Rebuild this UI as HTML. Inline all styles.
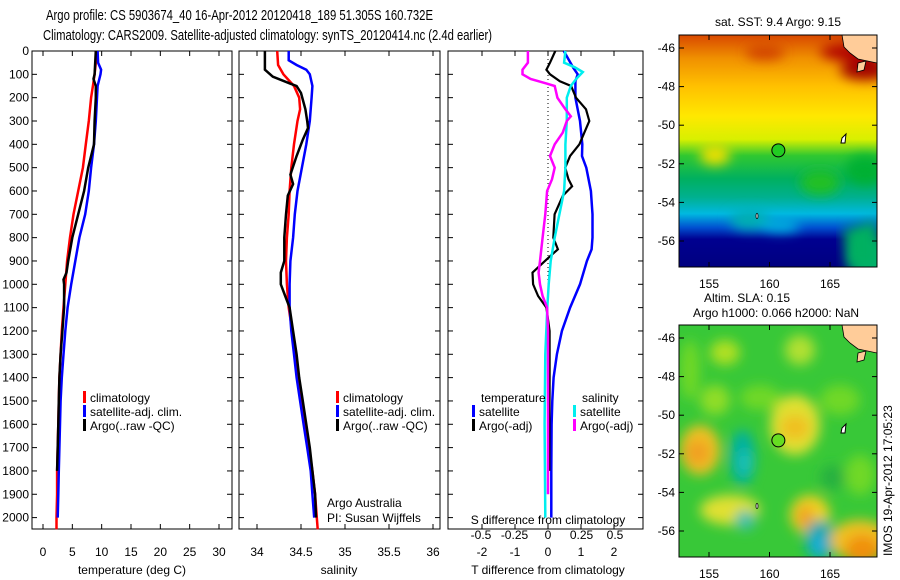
<!DOCTYPE html>
<html><head><meta charset="utf-8"><style>
body{margin:0;background:#fff}
svg{display:block;font-family:"Liberation Sans",sans-serif}
</style></head><body>
<svg id="c" width="900" height="580" xmlns="http://www.w3.org/2000/svg">
<defs>
<linearGradient id="sst" x1="0" y1="0" x2="0" y2="1">
<stop offset="0" stop-color="#d84800"/><stop offset="0.1" stop-color="#f09000"/><stop offset="0.22" stop-color="#ffc000"/>
<stop offset="0.35" stop-color="#ffe800"/><stop offset="0.45" stop-color="#d8f000"/><stop offset="0.52" stop-color="#30c830"/>
<stop offset="0.62" stop-color="#00b060"/><stop offset="0.7" stop-color="#00b090"/><stop offset="0.77" stop-color="#00b8e0"/>
<stop offset="0.83" stop-color="#0050d0"/><stop offset="0.88" stop-color="#000090"/><stop offset="1" stop-color="#000080"/>
</linearGradient>
<filter id="bl" x="-20%" y="-20%" width="140%" height="140%"><feGaussianBlur stdDeviation="6"/></filter>
<clipPath id="m1c"><rect x="679" y="35" width="198" height="232"/></clipPath>
<clipPath id="m2c"><rect x="679" y="325" width="198" height="232"/></clipPath>
</defs>
<text x="46" y="20" font-size="15" textLength="387" lengthAdjust="spacingAndGlyphs">Argo profile: CS 5903674_40 16-Apr-2012 20120418_189 51.305S 160.732E</text>
<text x="43" y="40" font-size="15" textLength="449" lengthAdjust="spacingAndGlyphs">Climatology: CARS2009. Satellite-adjusted climatology: synTS_20120414.nc (2.4d earlier)</text>
<g id="g"></g>
</svg>
<script>
// ---- data ----
const tDepth=[0,50,100,150,200,300,400,500,600,700,800,900,1000,1100,1200,1300,1400,1500,1600,1700,1800,1900,2000,2050];
const tClim=[9,9,8.8,8.5,8.2,7.8,7.3,6.8,6.0,5.2,4.6,4.1,3.8,3.5,3.2,3.0,2.8,2.7,2.6,2.5,2.4,2.4,2.3,2.3];
const tSatDepth=[0,50,80,100,150,200,300,400,500,600,700,800,900,1000,1100,1200,1300,1400,1500,1600,1700,1800,1900,2000];
const tSat=[9.3,9.4,9.9,9.8,9.3,9.2,9.0,8.7,8.2,7.8,7.2,6.2,5.5,4.8,4.2,3.8,3.5,3.2,3.0,2.9,2.8,2.7,2.6,2.5];
const tArgoDepth=[0,100,120,150,200,300,400,500,600,700,800,900,950,980,1000,1100,1200,1300,1400,1500,1600,1700,1800];
const tArgo=[9.0,8.8,8.6,9.0,9.0,8.8,8.7,7.7,7.0,6.0,5.0,4.3,4.0,3.5,3.6,3.6,3.3,3.0,2.8,2.7,2.6,2.5,2.4];
const sDepth=[0,60,100,150,200,250,300,400,500,600,700,800,900,1000,1100,1200,1300,1400,1500,1600,1700,1800,1900,2000,2050];
const sClim=[34.23,34.24,34.30,34.42,34.48,34.49,34.46,34.42,34.39,34.37,34.36,34.34,34.33,34.34,34.36,34.40,34.44,34.47,34.51,34.55,34.59,34.63,34.66,34.68,34.69];
const sSatDepth=[0,40,60,80,100,150,200,300,400,500,600,700,800,900,1000,1100,1200,1300,1400,1500,1600,1700,1800,1900,2000];
const sSat=[34.36,34.36,34.45,34.56,34.60,34.63,34.62,34.60,34.56,34.51,34.46,34.43,34.41,34.38,34.37,34.37,34.39,34.42,34.45,34.49,34.53,34.57,34.61,34.63,34.65];
const sArgoDepth=[0,80,110,140,150,180,250,300,330,380,450,530,570,620,700,800,900,950,1000,1050,1100,1200,1300,1400,1500,1600,1700,1800,1900,2000];
const sArgo=[34.09,34.09,34.18,34.38,34.45,34.50,34.55,34.57,34.58,34.52,34.45,34.38,34.41,34.35,34.33,34.31,34.31,34.27,34.27,34.32,34.37,34.41,34.45,34.48,34.52,34.56,34.60,34.63,34.66,34.67];
const dTSatDepth=[0,73,100,130,200,300,400,450,500,600,700,800,850,900,1000,1100,1200,1300,1400,1500,1600,1800,2000];
const dTSat=[0.48,0.77,0.9,0.83,0.83,0.97,1.04,1.03,1.16,1.3,1.35,1.35,1.32,1.18,0.97,0.67,0.42,0.27,0.17,0.13,0.11,0.1,0.1];
const dTArgoDepth=[0,50,80,100,130,150,200,250,300,350,400,450,500,550,580,620,700,800,850,880,950,1000,1050,1100,1200,1400,1800];
const dTArgo=[0.22,0.06,-0.05,0.06,0.36,0.7,0.85,1.15,1.25,1.1,0.95,0.67,0.52,0.62,0.73,0.45,0.2,0.16,0.3,0.06,-0.47,-0.45,-0.3,-0.05,0.05,0.05,0.04];
const dSSatDepth=[0,50,70,90,120,150,200,300,400,500,600,700,800,900,1000,1100,1300,1600,2000];
const dSSat=[0.13,0.12,0.2,0.26,0.21,0.17,0.14,0.14,0.13,0.13,0.12,0.085,0.05,0.02,0.005,-0.005,-0.02,-0.025,-0.02];
const dSArgoDepth=[0,50,80,100,120,140,150,200,250,280,300,350,400,450,500,550,600,700,800,900,950,1000,1050,1100,1200,1400,1900];
const dSArgo=[-0.15,-0.15,-0.19,-0.19,-0.13,-0.007,0.05,0.07,0.13,0.17,0.14,0.11,0.05,0.015,0.05,0.03,-0.007,-0.02,-0.04,-0.06,-0.07,-0.06,-0.04,-0.007,0.0,0.0,0.0];
const depthTicks=[0,100,200,300,400,500,600,700,800,900,1000,1100,1200,1300,1400,1500,1600,1700,1800,1900,2000];
const tTicks=[0,5,10,15,20,25,30];
const sTicks=[34,34.5,35,35.5,36];
const dTTicks=[-2,-1,0,1,2];
const dSTicks=[-0.5,-0.25,0,0.25,0.5];
const latTicks=[-46,-48,-50,-52,-54,-56];
const lonTicks=[155,160,165];
const floatLon=160.732, floatLat=-51.305;

// ---- scales ----
const Y0=51,Y1=529;
const yD=d=>Y0+d*0.2333;
const xT=v=>43+v*(176/30);
const xS=v=>257+(v-34)*88;
const xDT=v=>548+v*33;
const xDS=v=>548+v*134;
const mLon=v=>709+(v-155)*12.1;
const mLat=(v,top)=>top+13+(-46-v)*19.3;
const NS='http://www.w3.org/2000/svg';
const G=document.getElementById('g');
function el(t,a,txt,p){const e=document.createElementNS(NS,t);for(const k in a)e.setAttribute(k,a[k]);if(txt!=null)e.textContent=txt;(p||G).appendChild(e);return e;}
function line(xs,ds,fx,col,w,name){
  const pts=xs.map((v,i)=>fx(v).toFixed(1)+','+yD(ds[i]).toFixed(1)).join(' ');
  const e=el('polyline',{points:pts,fill:'none',stroke:col,'stroke-width':w,'stroke-linejoin':'miter'});
  
  
}
function frame(x0,x1,name){
  const r=el('rect',{x:x0,y:Y0,width:x1-x0,height:Y1-Y0,fill:'none',stroke:'#000','stroke-width':1});
  
  
  depthTicks.forEach(d=>{el('line',{x1:x0,x2:x0+5,y1:yD(d),y2:yD(d),stroke:'#000'});el('line',{x1:x1-5,x2:x1,y1:yD(d),y2:yD(d),stroke:'#000'});});
}
function xticks(vals,fx,x0,x1,y){
  vals.forEach(v=>{const x=fx(v);el('line',{x1:x,x2:x,y1:Y1,y2:Y1-5,stroke:'#000'});el('line',{x1:x,x2:x,y1:Y0,y2:Y0+5,stroke:'#000'});
    const t=el('text',{x:x,y:y,'font-size':12,'text-anchor':'middle'},String(v));
    
    });
}
depthTicks.forEach(d=>{const t=el('text',{x:29,y:yD(d)+4,'font-size':12,'text-anchor':'end'},String(d));
  
  });
// panel 1
frame(32,232,'temperature-axes');
xticks(tTicks,xT,32,232,556);
let t=el('text',{x:132,y:574,'font-size':12,'text-anchor':'middle'},'temperature (deg C)');


line(tClim,tDepth,xT,'#f00',2.5,'temp-climatology-line');
line(tSat,tSatDepth,xT,'#00f',2.5,'temp-satellite-line');
line(tArgo,tArgoDepth,xT,'#000',2.5,'temp-argo-line');
// panel 2
frame(239,440,'salinity-axes');
xticks(sTicks,xS,239,440,556);
t=el('text',{x:339,y:574,'font-size':12,'text-anchor':'middle'},'salinity');


line(sClim,sDepth,xS,'#f00',2.5,'sal-climatology-line');
line(sSat,sSatDepth,xS,'#00f',2.5,'sal-satellite-line');
line(sArgo,sArgoDepth,xS,'#000',2.5,'sal-argo-line');
// panel 3
frame(448,643,'difference-axes');
el('line',{x1:548,x2:548,y1:Y0,y2:yD(1000),stroke:'#000','stroke-dasharray':'1,3'});
xticks(dTTicks,xDT,448,643,556);
t=el('text',{x:548,y:574,'font-size':12,'text-anchor':'middle'},'T difference from climatology');


dSTicks.forEach(v=>{const s=el('text',{x:xDS(v),y:539,'font-size':12,'text-anchor':'middle'},String(v));
  
  });
t=el('text',{x:548,y:524,'font-size':12,'text-anchor':'middle'},'S difference from climatology');


line(dTSat,dTSatDepth,xDT,'#00f',2.5,'tdiff-satellite-line');
line(dTArgo,dTArgoDepth,xDT,'#000',2.2,'tdiff-argo-line');
line(dSSat,dSSatDepth,xDS,'#0ee',2.5,'sdiff-satellite-line');
line(dSArgo,dSArgoDepth,xDS,'#f0f',2.5,'sdiff-argo-line');
// legends
function leg(x,y,col,txt,name){el('rect',{x:x,y:y-11,width:3,height:12,fill:col});
  const e=el('text',{x:x+7,y:y,'font-size':12},txt);
  
  }
[['climatology','#f00'],['satellite-adj. clim.','#00f'],['Argo(..raw -QC)','#000']].forEach((r,i)=>leg(83,402+i*14,r[1],r[0],'temp-legend-entry'));
[['climatology','#f00'],['satellite-adj. clim.','#00f'],['Argo(..raw -QC)','#000']].forEach((r,i)=>leg(336,402+i*14,r[1],r[0],'sal-legend-entry'));
t=el('text',{x:481,y:402,'font-size':12},'temperature');


t=el('text',{x:582,y:402,'font-size':12},'salinity');


leg(472,416,'#00f','satellite','diff-legend-entry');leg(472,430,'#000','Argo(-adj)','diff-legend-entry');
leg(573,416,'#0ee','satellite','diff-legend-entry');leg(573,430,'#f0f','Argo(-adj)','diff-legend-entry');
t=el('text',{x:327,y:507,'font-size':12},'Argo Australia');


t=el('text',{x:327,y:522,'font-size':12},'PI: Susan Wijffels');



// ---- maps ----
function map(top,kind){
  const g=el('g',{'clip-path':'url(#m'+(kind==1?'1':'2')+'c)'});
  
  
  if(kind==1){
    el('rect',{x:679,y:top,width:198,height:232,fill:'url(#sst)'},null,g);
    const b=el('g',{filter:'url(#bl)'},null,g);
    [[820,top+8,70,18,'#b00000'],[840,top+25,50,20,'#a00000'],[745,top+10,40,15,'#d04000'],[700,top+110,30,20,'#f0e000'],[845,top+120,40,30,'#00b030'],
     [850,top+200,40,50,'#00b070'],[730,top+175,40,20,'#00b0b0'],[760,top+185,40,12,'#00c0e0'],[800,top+135,40,25,'#20c020']].forEach(r=>el('ellipse',{cx:r[0]+r[2]/2,cy:r[1]+r[3]/2,rx:r[2]/2,ry:r[3]/2,fill:r[4]},null,b));
    el('path',{d:`M843 ${top+195} L877 ${top+185} L877 ${top+232} L848 ${top+232} Z`,fill:'#00b060',filter:'url(#bl)'},null,g);
  } else {
    el('rect',{x:679,y:top,width:198,height:232,fill:'#38c838'},null,g);
    const b=el('g',{filter:'url(#bl)'},null,g);
    [[680,top+100,40,50,'#f0c020'],[685,top+115,25,25,'#f0a020'],[770,top+70,50,60,'#e0e030'],[780,top+90,30,25,'#f0c020'],
     [710,top+15,30,25,'#b0e020'],[785,top+10,30,30,'#b0e030'],[790,top+170,40,40,'#f0d020'],[797,top+180,16,25,'#f0a020'],
     [700,top+170,60,30,'#e0e030'],[730,top+105,25,55,'#00b0a0'],[740,top+125,10,25,'#20c8c0'],[805,top+195,30,40,'#00a8b0'],
     [812,top+210,12,20,'#20b0e0'],[830,top+195,60,40,'#f0c020'],[845,top+210,35,30,'#f09010'],[680,top+15,20,60,'#70d828'],
     [735,top+185,20,20,'#40c0b0'],[740,top+60,40,25,'#70d828'],[820,top+60,40,30,'#70d828'],[700,top+60,30,30,'#90dd28'],[845,top+130,30,40,'#70d828'],[820,top+140,25,25,'#28b040']].forEach(r=>el('ellipse',{cx:r[0]+r[2]/2,cy:r[1]+r[3]/2,rx:r[2]/2,ry:r[3]/2,fill:r[4]},null,b));
  }
  el('path',{d:`M842 ${top} L877 ${top} L877 ${top+28} L858 ${top+24} L850 ${top+18} L844 ${top+12} Z`,fill:'#ffcc99',stroke:'#000','stroke-width':0.8},null,g);
  el('path',{d:`M858 ${top+28} L866 ${top+26} L864 ${top+35} L857 ${top+37} Z`,fill:'#ffcc99',stroke:'#000','stroke-width':0.8},null,g);
  el('path',{d:`M842 ${top+103} L846 ${top+99} L845 ${top+108} L841 ${top+108} Z`,fill:'#fff',stroke:'#000','stroke-width':1},null,g);
  el('ellipse',{cx:757,cy:top+181,rx:1,ry:2.5,fill:'#fff',stroke:'#000','stroke-width':0.8},null,g);
  const c=el('circle',{cx:mLon(floatLon),cy:mLat(floatLat,top),r:6.5,fill:kind==1?'#22cc22':'#66dd22',stroke:'#000','stroke-width':1});
  
  
  el('rect',{x:679,y:top,width:198,height:232,fill:'none',stroke:'#000'});
  latTicks.forEach(v=>{const y=mLat(v,top);el('line',{x1:679,x2:684,y1:y,y2:y,stroke:'#000'});el('line',{x1:872,x2:877,y1:y,y2:y,stroke:'#000'});
    const e=el('text',{x:675,y:y+4,'font-size':12,'text-anchor':'end'},String(v));
    
    });
  lonTicks.forEach(v=>{const x=mLon(v);el('line',{x1:x,x2:x,y1:top,y2:top+5,stroke:'#000'});el('line',{x1:x,x2:x,y1:top+227,y2:top+232,stroke:'#000'});
    const e=el('text',{x:x,y:top+253,'font-size':12,'text-anchor':'middle'},String(v));
    
    });
}
map(35,1);map(325,2);
t=el('text',{x:778,y:26,'font-size':12,'text-anchor':'middle'},'sat. SST: 9.4  Argo: 9.15');


t=el('text',{x:747,y:302,'font-size':12,'text-anchor':'middle'},'Altim. SLA: 0.15');


t=el('text',{x:776,y:317,'font-size':12,'text-anchor':'middle'},'Argo h1000: 0.066 h2000: NaN');


t=el('text',{x:0,y:0,'font-size':12,transform:'translate(892,556) rotate(-90)'},'IMOS 19-Apr-2012 17:05:23');


</script>
</body></html>
